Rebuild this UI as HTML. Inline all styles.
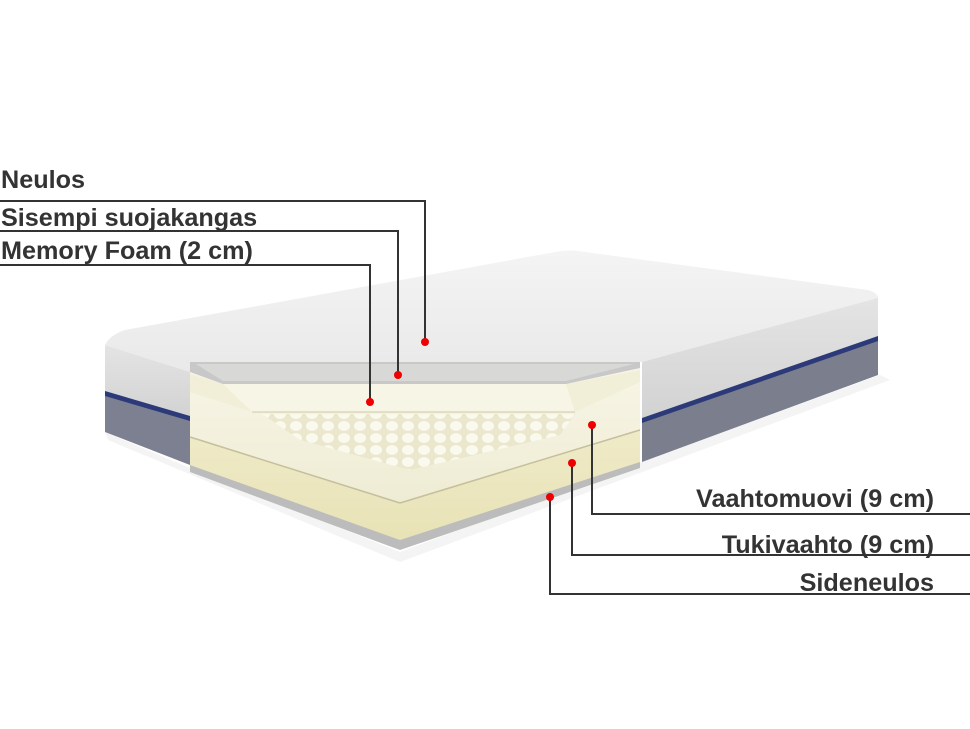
<!DOCTYPE html>
<html><head><meta charset="utf-8"><style>
html,body{margin:0;padding:0;background:#fff;}
svg{display:block}
text{font-family:"Liberation Sans",Arial,sans-serif;font-weight:bold;font-size:25.2px;fill:#333;}
</style></head><body>
<svg width="970" height="729" viewBox="0 0 970 729" xmlns="http://www.w3.org/2000/svg">
<defs>
<linearGradient id="top" x1="0" y1="0" x2="0" y2="1">
<stop offset="0" stop-color="#f4f4f4"/><stop offset="1" stop-color="#e9e9e9"/></linearGradient>
<linearGradient id="side" x1="0" y1="0" x2="0" y2="1">
<stop offset="0" stop-color="#e4e4e4"/><stop offset="1" stop-color="#d2d2d2"/></linearGradient>
<linearGradient id="cream" x1="0" y1="0" x2="0" y2="1">
<stop offset="0" stop-color="#f7f5e6"/><stop offset="1" stop-color="#efecd4"/></linearGradient>
<linearGradient id="yel" x1="0" y1="0" x2="0" y2="1">
<stop offset="0" stop-color="#efebc8"/><stop offset="1" stop-color="#e8e2b6"/></linearGradient>
<pattern id="egg" width="16" height="12" patternUnits="userSpaceOnUse">
<rect width="16" height="12" fill="#ebe7cc"/>
<ellipse cx="8" cy="6" rx="6" ry="5" fill="#faf9ee"/>
</pattern>
</defs>
<rect width="970" height="729" fill="#fff"/>
<polygon points="105,432 190,468 400,552 642,462 880,375 890,380 400,562 108,440" fill="#f4f4f4"/>
<path d="M105,345 Q110,335 125,330 L555,252 Q570,249 585,252 L868,290 Q880,294 878,300 L642,362 L190,362 L190,372 Z" fill="url(#top)"/>
<polygon points="105,345 190,372 190,418 105,393" fill="url(#side)"/>
<polygon points="105,393 190,418 190,465 105,432" fill="#7d8090"/>
<polygon points="105,391 190,416 190,421 105,396" fill="#2c3a7a"/>
<polygon points="642,362 878,298 878,338 642,420" fill="url(#side)"/>
<polygon points="642,420 878,338 878,375 642,462" fill="#7b7e8c"/>
<polygon points="642,418 878,336 878,341 642,423" fill="#2c3a7a"/>
<polygon points="190,462 400,538 640,458 640,468 400,550 190,472" fill="#bcbcbc"/>
<polygon points="190,437 400,503 640,428 640,462 400,540 190,465" fill="url(#yel)"/>
<polygon points="190,372 640,368 640,430 400,503 190,437" fill="url(#cream)"/>
<line x1="190" y1="437" x2="400" y2="503" stroke="#c4bf9c" stroke-width="1.5"/>
<line x1="400" y1="503" x2="640" y2="430" stroke="#c4bf9c" stroke-width="1.5"/>
<polygon points="262,414 575,414 560,435 410,470 300,440" fill="url(#egg)"/>
<polygon points="190,374 223,384 566,384 640,370 640,382 575,412 252,412 190,392" fill="#f1efd8"/>
<polygon points="223,384 566,384 575,412 252,412" fill="#f7f5e6"/>
<line x1="252" y1="412" x2="575" y2="412" stroke="#cfcaa8" stroke-width="1"/>
<polygon points="190,362 640,362 640,368 566,384 223,384 190,372" fill="#c8c8c8"/>
<polygon points="196,364 634,364 566,381 223,381" fill="#d8d8d6"/>
<g stroke="#333" stroke-width="2" fill="none">
<polyline points="0,201 425,201 425,342"/>
<polyline points="0,231 398,231 398,375"/>
<polyline points="0,265 370,265 370,402"/>
<polyline points="970,514 592,514 592,425"/>
<polyline points="970,555 572,555 572,463"/>
<polyline points="970,594 550,594 550,497"/>
</g>
<g fill="#e00">
<circle cx="425" cy="342" r="4"/><circle cx="398" cy="375" r="4"/><circle cx="370" cy="402" r="4"/>
<circle cx="592" cy="425" r="4"/><circle cx="572" cy="463" r="4"/><circle cx="550" cy="497" r="4"/>
</g>
<text x="1" y="188">Neulos</text>
<text x="1" y="226">Sisempi suojakangas</text>
<text x="1" y="259">Memory Foam (2 cm)</text>
<text x="934" y="507" text-anchor="end">Vaahtomuovi (9 cm)</text>
<text x="934" y="553" text-anchor="end">Tukivaahto (9 cm)</text>
<text x="934" y="591" text-anchor="end">Sideneulos</text>
</svg>
</body></html>
